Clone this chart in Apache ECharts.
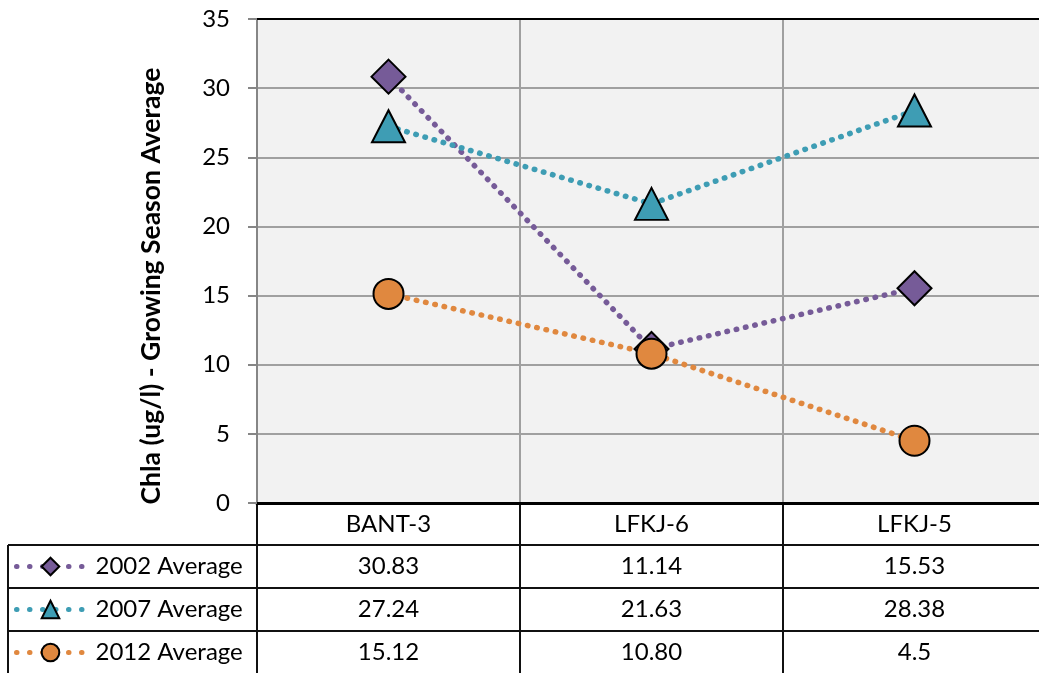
<!DOCTYPE html>
<html>
<head>
<meta charset="utf-8">
<script src="https://cdn.jsdelivr.net/npm/echarts@6/dist/echarts.min.js"></script>
<style>
html, body { margin: 0; padding: 0; background: #fff; }
#chart { width: 1039px; height: 673px; }
</style>
</head>
<body>
<div id="chart"></div>
<script>
// data, as printed in the table under the chart
var sites = ['BANT-3', 'LFKJ-6', 'LFKJ-5']
var seriesNames = ['2002 Average', '2007 Average', '2012 Average']
var avg2002 = ['30.83', '11.14', '15.53']
var avg2007 = ['27.24', '21.63', '28.38']
var avg2012 = ['15.12', '10.80', '4.5']
var yMin = 0
var yMax = 35
var yStep = 5
var yTitle = 'Chla (ug/l) - Growing Season Average'

var FONT = 'Lato, "Liberation Sans", sans-serif'
var colors = ['#765b98', '#3e9db4', '#e0883f']
var symbols = ['diamond', 'triangle', 'circle']
var symbolSizes = [34, [33, 32], 30]

// plot area (px)
var gridLeft = 257
var gridTop = 19
var gridWidth = 789
var gridBottomY = 503
var rowH = 43

var allData = [avg2002, avg2007, avg2012]

function lineSeries (i) {
  return {
    name: seriesNames[i],
    type: 'line',
    data: allData[i],
    symbol: symbols[i],
    symbolSize: symbolSizes[i],
    z: 3 + i,
    lineStyle: {
      color: colors[i],
      width: 5.5,
      type: [0.5, 9],
      cap: 'round'
    },
    itemStyle: {
      color: colors[i],
      borderColor: '#000',
      borderWidth: 2
    },
    emphasis: { disabled: true },
    animation: false
  }
}

var chart = echarts.init(document.getElementById('chart'))

var legends = seriesNames.map(function (name, i) {
  var center = gridBottomY + 42 + rowH * i + rowH / 2
  return {
    data: [name],
    left: 14,
    top: center - 12,
    padding: 0,
    itemWidth: 68,
    itemHeight: 22,
    selectedMode: false,
    lineStyle: { width: 5, type: [0.5, 12.5], cap: 'round' },
    textStyle: {
      fontSize: 24,
      fontFamily: FONT,
      color: '#000',
      padding: [0, 0, 0, 6]
    }
  }
})

chart.setOption({
  backgroundColor: '#fff',
  animation: false,
  grid: {
    left: gridLeft,
    top: gridTop,
    width: gridWidth,
    height: gridBottomY - gridTop,
    outerBoundsMode: 'none',
    show: true,
    backgroundColor: '#f2f2f2',
    borderWidth: 0
  },
  legend: legends,
  xAxis: [{
    type: 'category',
    data: sites,
    position: 'bottom',
    boundaryGap: true,
    axisLine: { lineStyle: { color: '#000', width: 3 } },
    axisTick: { show: false },
    axisLabel: { fontSize: 24, fontFamily: FONT, color: '#000', margin: 9 },
    splitLine: { show: true, lineStyle: { color: '#a0a0a0', width: 2 } }
  }, {
    type: 'category',
    data: sites,
    position: 'top',
    axisLine: { lineStyle: { color: '#000', width: 2 } },
    axisTick: { show: false },
    axisLabel: { show: false },
    splitLine: { show: false }
  }],
  yAxis: {
    type: 'value',
    min: yMin,
    max: yMax,
    interval: yStep,
    axisLine: { show: true, lineStyle: { color: '#868686', width: 2 } },
    axisTick: { show: true, length: 9, lineStyle: { color: '#868686', width: 2 } },
    axisLabel: { fontSize: 24, fontFamily: FONT, color: '#000', margin: 27 },
    splitLine: { show: true, lineStyle: { color: '#a0a0a0', width: 2 } }
  },
  series: [lineSeries(0), lineSeries(1), lineSeries(2)]
})

// data table under the plot, built from the same arrays
var els = []
var cellW = gridWidth / sites.length
var tableTop = gridBottomY
var headerBottom = tableTop + 42
var tableBottom = 700
var line = function (x1, y1, x2, y2) {
  return {
    type: 'line',
    silent: true,
    shape: { x1: x1, y1: y1, x2: x2, y2: y2 },
    style: { stroke: '#111', lineWidth: 2 }
  }
}
for (var c = 0; c <= sites.length; c++) {
  var x = gridLeft + c * cellW
  els.push(line(x, tableTop, x, tableBottom))
}
els.push(line(8, headerBottom, 8, tableBottom))
for (var r = 0; r < seriesNames.length; r++) {
  var y = headerBottom + r * rowH
  els.push(line(8, y, gridLeft + gridWidth, y))
}
allData.forEach(function (vals, r) {
  vals.forEach(function (v, c) {
    var px = chart.convertToPixel({ xAxisIndex: 0 }, sites[c])
    els.push({
      type: 'text',
      silent: true,
      x: px,
      y: headerBottom + r * rowH + rowH / 2,
      style: {
        text: v,
        align: 'center',
        verticalAlign: 'middle',
        fontSize: 24,
        fontFamily: FONT,
        fill: '#000'
      }
    })
  })
})
els.push({
  type: 'text',
  silent: true,
  x: 151,
  y: 286,
  rotation: Math.PI / 2,
  style: {
    text: yTitle,
    align: 'center',
    verticalAlign: 'middle',
    fontSize: 26.5,
    fontWeight: 'bold',
    fontFamily: FONT,
    fill: '#000'
  }
})
chart.setOption({ graphic: { elements: els } })
</script>
</body>
</html>
